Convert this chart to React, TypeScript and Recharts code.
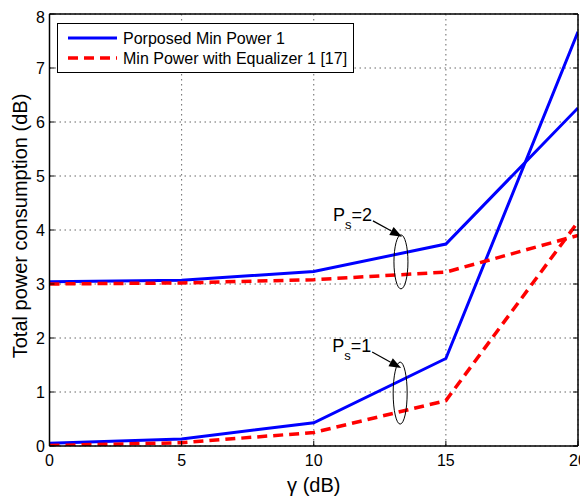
import React from 'react';
import { LineChart, Line, XAxis, YAxis, CartesianGrid, ReferenceDot, Legend, Label } from 'recharts';

const gammaDb = [0, 5, 10, 15, 20];
const proposedPs1 = [0.05, 0.13, 0.43, 1.62, 7.67];
const proposedPs2 = [3.04, 3.07, 3.23, 3.74, 6.26];
const equalizerPs1 = [0.01, 0.06, 0.25, 0.84, 4.15];
const equalizerPs2 = [3.0, 3.02, 3.08, 3.22, 3.9];

const xTicks = [0, 5, 10, 15, 20];
const yTicks = [0, 1, 2, 3, 4, 5, 6, 7, 8];
const legendLabels = ['Porposed Min Power 1', 'Min Power with Equalizer 1 [17]'];
const xTitle = 'γ (dB)';
const yTitle = 'Total power consumption (dB)';

const annotations = [
  { value: '2', x: 13.3, y: 3.41, ry: 27 },
  { value: '1', x: 13.27, y: 0.98, ry: 31 },
];

const data = gammaDb.map((g, i) => ({
  gamma: g,
  p1: proposedPs1[i],
  p2: proposedPs2[i],
  e1: equalizerPs1[i],
  e2: equalizerPs2[i],
}));

const FONT = '"Liberation Sans", Arial, sans-serif';
const BLUE = '#0000ff';
const RED = '#ff0000';

const makeAnnot = (value: string, ry: number) => (props: any) => {
  const { cx, cy } = props;
  const sx = cx - 28, sy = cy - 41;
  const tx = cx + 1, ty = cy - 25;
  const dx = tx - sx, dy = ty - sy;
  const len = Math.sqrt(dx * dx + dy * dy);
  const ux = dx / len, uy = dy / len;
  const hl = 12, hw = 4.5;
  const bx = tx - ux * hl, by = ty - uy * hl;
  const p1 = `${tx},${ty}`;
  const p2 = `${bx - uy * hw},${by + ux * hw}`;
  const p3 = `${bx + uy * hw},${by - ux * hw}`;
  return (
    <g>
      <ellipse cx={cx} cy={cy} rx={7} ry={ry} fill="none" stroke="#000" strokeWidth={1} />
      <line x1={sx} y1={sy} x2={bx} y2={by} stroke="#000" strokeWidth={1.2} />
      <polygon points={`${p1} ${p2} ${p3}`} fill="#000" />
      <text x={cx - 68} y={cy - 41} fontFamily={FONT} fontSize={18} fill="#000">
        <tspan>P</tspan>
        <tspan dy={8} fontSize={13}>s</tspan>
        <tspan dy={-8}>={value}</tspan>
      </text>
    </g>
  );
};

const LegendBox = () => (
  <svg width={297} height={50} style={{ display: 'block' }}>
    <rect x={0.5} y={0.5} width={296} height={49} fill="#fff" stroke="#000" strokeWidth={1} />
    <line x1={11} y1={15} x2={60} y2={15} stroke={BLUE} strokeWidth={3} />
    <line x1={11} y1={35} x2={60} y2={35} stroke={RED} strokeWidth={3.5} strokeDasharray="10 6" />
    <text x={66} y={20.5} fontFamily={FONT} fontSize={16} fill="#000">{legendLabels[0]}</text>
    <text x={66} y={40.5} fontFamily={FONT} fontSize={16} fill="#000">{legendLabels[1]}</text>
  </svg>
);

const emptyTick = () => <g />;

export default function App() {
  return (
    <LineChart
      width={580}
      height={489}
      data={data}
      margin={{ top: 5, right: 9, bottom: 0, left: 0 }}
      style={{ fontFamily: FONT }}
    >
      <CartesianGrid stroke="#666" strokeDasharray="1.5 3.5" strokeWidth={1} />
      <XAxis
        dataKey="gamma"
        type="number"
        domain={[0, 20]}
        ticks={xTicks}
        height={51}
        tickSize={-5}
        tickMargin={14}
        stroke="#000"
        axisLine={{ stroke: '#000', strokeWidth: 1.5 }}
        tickLine={{ stroke: '#000' }}
        tick={{ fill: '#000', fontSize: 16, fontFamily: FONT }}
        allowDataOverflow
      >
        <Label
          content={(p: any) => {
            const vb = p.viewBox;
            return (
              <text x={vb.x + vb.width / 2} y={484} textAnchor="middle" fontFamily={FONT} fontSize={20} fill="#000">
                {xTitle}
              </text>
            );
          }}
        />
      </XAxis>
      <XAxis
        xAxisId="top"
        orientation="top"
        type="number"
        domain={[0, 20]}
        ticks={xTicks}
        height={1}
        tickSize={-5}
        stroke="#000"
        axisLine={{ stroke: '#000', strokeWidth: 1.5 }}
        tickLine={{ stroke: '#000' }}
        tick={emptyTick}
        allowDataOverflow
      />
      <YAxis
        type="number"
        domain={[0, 8]}
        ticks={yTicks}
        width={41.5}
        tickSize={-5}
        tickMargin={9.5}
        stroke="#000"
        axisLine={{ stroke: '#000', strokeWidth: 1.5 }}
        tickLine={{ stroke: '#000' }}
        tick={{ fill: '#000', fontSize: 16, fontFamily: FONT }}
        allowDataOverflow
      >
        <Label
          content={(p: any) => {
            const vb = p.viewBox;
            const cx = 19;
            const cy = vb.y + vb.height / 2 - 4;
            return (
              <text x={cx} y={cy} transform={`rotate(-90 ${cx} ${cy})`} textAnchor="middle" fontFamily={FONT} fontSize={20} fill="#000">
                {yTitle}
              </text>
            );
          }}
        />
      </YAxis>
      <YAxis
        yAxisId="right"
        orientation="right"
        type="number"
        domain={[0, 8]}
        ticks={yTicks}
        width={1}
        tickSize={-5}
        stroke="#000"
        axisLine={{ stroke: '#000', strokeWidth: 1.5 }}
        tickLine={{ stroke: '#000' }}
        tick={emptyTick}
        allowDataOverflow
      />
      <Line dataKey="p2" stroke={BLUE} strokeWidth={3} dot={false} activeDot={false} isAnimationActive={false} legendType="none" />
      <Line dataKey="p1" stroke={BLUE} strokeWidth={3} dot={false} activeDot={false} isAnimationActive={false} legendType="none" />
      <Line dataKey="e2" stroke={RED} strokeWidth={3.5} strokeDasharray="10 6" dot={false} activeDot={false} isAnimationActive={false} legendType="none" />
      <Line dataKey="e1" stroke={RED} strokeWidth={3.5} strokeDasharray="10 6" dot={false} activeDot={false} isAnimationActive={false} legendType="none" />
      {annotations.map((a) => (
        <ReferenceDot key={a.value} x={a.x} y={a.y} r={1} shape={makeAnnot(a.value, a.ry)} />
      ))}
      <Legend
        layout="vertical"
        align="center"
        verticalAlign="middle"
        content={() => <LegendBox />}
        wrapperStyle={{ left: 49, top: 15, width: 297, height: 50 }}
      />
    </LineChart>
  );
}
